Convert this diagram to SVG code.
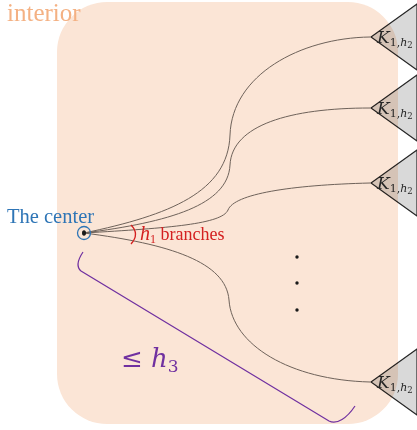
<svg xmlns="http://www.w3.org/2000/svg" width="417" height="430" viewBox="0 0 417 430">
<defs>
<style>
.tri{fill:#d9d9d9;stroke:#262626;stroke-width:1.2;mix-blend-mode:multiply}
.k{font-family:"DejaVu Serif","Liberation Serif",serif;font-style:italic;fill:#262626}
.edge{fill:none;stroke:#6e625a;stroke-width:1}
.dot{fill:#1a1a1a}
</style>
</defs>
<rect id="interior-region" x="57" y="2" width="341" height="422" rx="50" ry="50" fill="#fbe5d6"/>
<text x="7" y="21" font-family="Liberation Serif, serif" font-size="25" fill="#f4b183">interior</text>
<g id="connectors">
<path class="edge" d="M84,233 C170,215 228,192 230,135 C232,75 300,38 370,37"/>
<path class="edge" d="M84,233 C170,222 228,205 230,165 C232,125 290,108 370,108"/>
<path class="edge" d="M84,233 C170,228 222,224 228,210 C234,194 290,185 370,183"/>
<path class="edge" d="M84,233 C170,244 226,262 229,300 C232,345 290,380 370,382"/>
<path fill="none" stroke="#7030a0" stroke-width="1.2" d="M83,252 C79,258 75,266 81,271 L329,421 C337,425 347,418 355,406"/>
</g>
<g id="center">
<circle cx="84" cy="233" r="6.5" fill="none" stroke="#2e75b6" stroke-width="1.3"/>
<ellipse cx="84" cy="233" rx="2" ry="2.8" class="dot"/>
<text x="7" y="223" font-family="Liberation Serif, serif" font-size="20.5" fill="#2e75b6">The center</text>
</g>
<g id="branches-label">
<path d="M131,225 Q140,234 131,244" fill="none" stroke="#d42020" stroke-width="1.3"/>
<text x="140" y="240" font-family="Liberation Serif, serif" font-size="18" fill="#d42020"><tspan font-style="italic" font-size="20">h</tspan><tspan font-size="12" dy="3">1</tspan><tspan dy="-3"> branches</tspan></text>
</g>
<g id="K1">
<polygon class="tri" points="371,37 417,4 417,70"/>
<text class="k" x="377" y="43" font-size="17">K<tspan font-size="11" dy="3" font-style="normal">1,</tspan><tspan font-size="11">h</tspan><tspan font-size="8.5" dy="2" font-style="normal">2</tspan></text>
</g>
<g id="K2">
<polygon class="tri" points="371,108 417,75 417,141"/>
<text class="k" x="377" y="114" font-size="17">K<tspan font-size="11" dy="3" font-style="normal">1,</tspan><tspan font-size="11">h</tspan><tspan font-size="8.5" dy="2" font-style="normal">2</tspan></text>
</g>
<g id="K3">
<polygon class="tri" points="371,183 417,150 417,216"/>
<text class="k" x="377" y="189" font-size="17">K<tspan font-size="11" dy="3" font-style="normal">1,</tspan><tspan font-size="11">h</tspan><tspan font-size="8.5" dy="2" font-style="normal">2</tspan></text>
</g>
<g id="K4">
<polygon class="tri" points="371,382 417,349 417,415"/>
<text class="k" x="377" y="388" font-size="17">K<tspan font-size="11" dy="3" font-style="normal">1,</tspan><tspan font-size="11">h</tspan><tspan font-size="8.5" dy="2" font-style="normal">2</tspan></text>
</g>
<g id="ellipsis">
<circle cx="297" cy="257" r="1.7" class="dot"/>
<circle cx="297" cy="283" r="1.7" class="dot"/>
<circle cx="297" cy="310" r="1.7" class="dot"/>
</g>
<g id="depth-label">
<text x="121" y="367" font-family="DejaVu Serif, Liberation Serif, serif" font-size="26" fill="#7030a0">≤ <tspan font-style="italic">h</tspan><tspan font-size="17" dy="5">3</tspan></text>
</g>
</svg>
